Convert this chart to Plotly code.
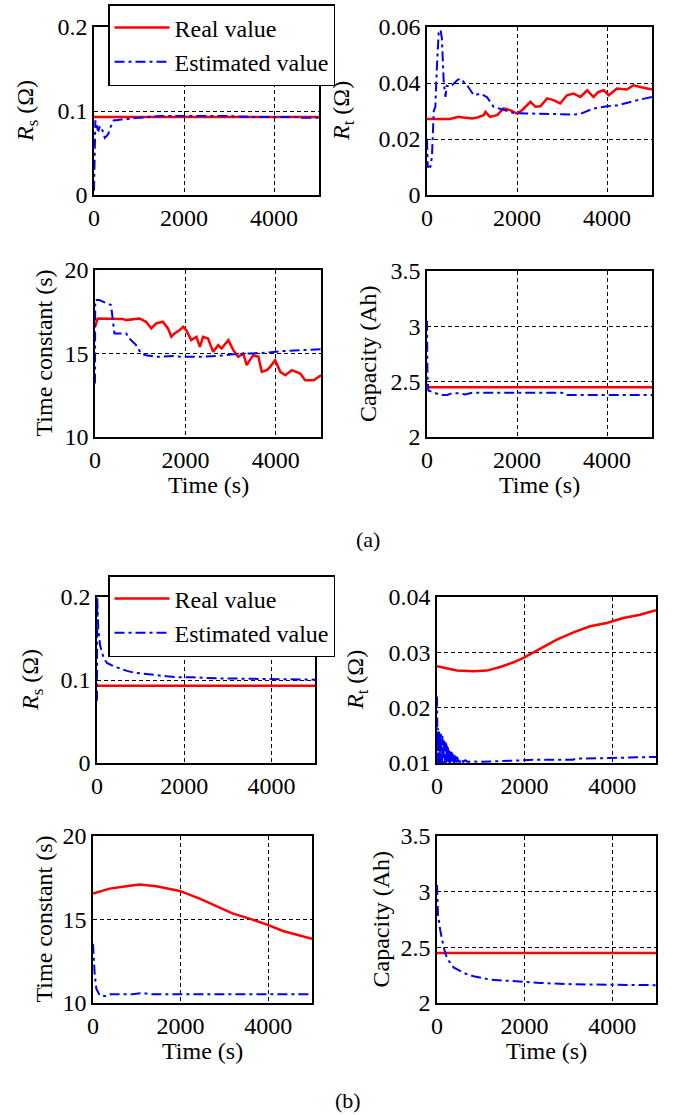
import plotly.graph_objects as go

W, H = 674, 1115
FONT = "'Liberation Serif', 'Times New Roman', Times, serif"

# ---------------- data ----------------
T_FULL = [0, 5000]

# (a) R_s
rs_a_real = [0.093, 0.093]
rs_a_est_t = [0, 10, 20, 30, 45, 60, 80, 100, 130, 160, 200, 240, 280, 320, 360, 400, 440, 500, 600, 700, 800,
              1000, 1200, 1500, 2000, 2500, 3000, 3500, 4000, 4500, 4600, 5000]
rs_a_est = [0.005, 0.03, 0.06, 0.089, 0.08, 0.085, 0.078, 0.077, 0.082, 0.081, 0.075, 0.068, 0.07, 0.073, 0.08,
            0.085, 0.089, 0.089, 0.090, 0.090, 0.091, 0.092, 0.093, 0.094, 0.094, 0.094, 0.094, 0.093, 0.093,
            0.093, 0.092, 0.092]

# (a) R_t
rt_a_real_t = [0, 500, 600, 700, 800, 1000, 1100, 1260, 1300, 1400, 1560, 1700, 1850, 2000, 2110, 2300, 2410,
               2520, 2670, 2810, 2960, 3110, 3260, 3410, 3560, 3700, 3810, 3930, 4040, 4220, 4440, 4590, 4740, 5000]
rt_a_real = [0.0271, 0.0271, 0.0275, 0.0279, 0.0277, 0.0273, 0.0276, 0.0285, 0.0297, 0.0279, 0.0285, 0.0309,
             0.0303, 0.0291, 0.0303, 0.0333, 0.0315, 0.0317, 0.0345, 0.0339, 0.0327, 0.0356, 0.0362, 0.035,
             0.0374, 0.035, 0.0368, 0.0374, 0.0356, 0.038, 0.0377, 0.0392, 0.0386, 0.0377]
rt_a_est_t = [0, 15, 75, 110, 150, 185, 220, 260, 300, 330, 370, 410, 440, 520, 670, 740, 890, 1040, 1190, 1330,
              1480, 1700, 1930, 2220, 2520, 2890, 3260, 3410, 3700, 4000, 4220, 4520, 4740, 5000]
rt_a_est = [0.0196, 0.0101, 0.0101, 0.0137, 0.030, 0.0315, 0.0457, 0.058, 0.059, 0.056, 0.041, 0.035, 0.039,
            0.0386, 0.041, 0.0416, 0.0392, 0.0356, 0.0362, 0.035, 0.0315, 0.0303, 0.0293, 0.0291, 0.0291,
            0.0289, 0.0287, 0.029, 0.0309, 0.0317, 0.032, 0.0333, 0.0341, 0.035]

# (a) time constant
tc_a_real_t = [0, 60, 615, 690, 985, 1130, 1245, 1355, 1500, 1615, 1690, 1760, 1875, 1950, 2020, 2130, 2245,
               2320, 2390, 2500, 2615, 2725, 2800, 2950, 3060, 3170, 3280, 3355, 3500, 3615, 3690, 3800, 3875,
               3985, 4100, 4210, 4355, 4540, 4650, 4840, 5000]
tc_a_real = [16.6, 17.1, 17.07, 17.0, 17.1, 16.9, 16.5, 16.8, 16.9, 16.5, 16.0, 16.2, 16.4, 16.6, 16.4, 15.8,
             16.0, 15.4, 16.0, 15.9, 15.1, 15.5, 15.3, 15.8, 15.2, 14.8, 15.0, 14.3, 14.9, 14.8, 13.9, 14.0,
             14.2, 14.6, 13.9, 13.7, 14.0, 13.8, 13.4, 13.4, 13.7]
tc_a_est_t = [0, 5, 95, 245, 355, 430, 690, 760, 910, 1020, 1130, 1355, 1725, 1950, 2320, 2690, 3060, 3430,
              3800, 4170, 4540, 5000]
tc_a_est = [13.2, 18.2, 18.2, 18.0, 17.9, 16.2, 16.2, 15.9, 15.5, 15.0, 14.9, 14.8, 14.85, 14.8, 14.8, 14.85,
            14.95, 15.0, 15.05, 15.15, 15.2, 15.25]

# (a) capacity
cap_a_real = [2.45, 2.45]
cap_a_est_t = [0, 10, 30, 150, 300, 450, 550, 700, 850, 1000, 1500, 2000, 2500, 3000, 3100, 3500, 4000, 4500, 5000]
cap_a_est = [3.05, 2.55, 2.42, 2.40, 2.38, 2.38, 2.395, 2.395, 2.385, 2.40, 2.40, 2.40, 2.40, 2.40, 2.38, 2.38,
             2.38, 2.38, 2.38]

# (b) R_s
rs_b_real = [0.093, 0.093]
rs_b_est_t = [0, 5, 30, 76, 153, 229, 382, 534, 687, 840, 1069, 1298, 1603, 1908, 2214, 2748, 3511, 4275, 5000]
rs_b_est = [0.075, 0.2, 0.16, 0.1406, 0.1265, 0.1205, 0.1165, 0.1133, 0.111, 0.109, 0.1076, 0.106, 0.1044,
            0.1032, 0.1032, 0.102, 0.1016, 0.1012, 0.1004]

# (b) R_t
rt_b_real_t = [0, 228, 456, 836, 1140, 1444, 1748, 1976, 2356, 2736, 3116, 3495, 3875, 4255, 4635, 5000]
rt_b_real = [0.0275, 0.0271, 0.0267, 0.0266, 0.0267, 0.02735, 0.0282, 0.029, 0.0306, 0.0323, 0.0336, 0.0347,
             0.0353, 0.0362, 0.0368, 0.0376]
rt_b_est_t = [0, 4, 10, 16, 22, 28, 34, 40, 46, 52, 58, 64, 70, 76, 82, 88, 94, 100, 108, 116, 124, 132, 140,
              148, 156, 164, 172, 180, 190, 200, 210, 220, 230, 240, 250, 260, 272, 284, 296, 308, 320, 332,
              344, 356, 370, 384, 398, 412, 428, 444, 460, 480, 500, 530, 560, 600, 650, 700, 800, 1000, 1300,
              1600, 1900, 2300, 2700, 3100, 3200, 3600, 4000, 4400, 4800, 5000]
rt_b_est = [0.022, 0.0101, 0.0168, 0.0101, 0.0163, 0.0100, 0.0160, 0.0101, 0.0158, 0.0100, 0.0157, 0.0101,
            0.0155, 0.0100, 0.0154, 0.0101, 0.0152, 0.0100, 0.0151, 0.0101, 0.0149, 0.0100, 0.0147, 0.0101,
            0.0144, 0.0100, 0.0141, 0.0101, 0.0138, 0.0100, 0.0135, 0.0101, 0.0131, 0.0100, 0.0128, 0.0101,
            0.0125, 0.0100, 0.0123, 0.0101, 0.0121, 0.0100, 0.0119, 0.0101, 0.0117, 0.0100, 0.0115, 0.0101,
            0.0113, 0.0101, 0.0111, 0.0101, 0.0109, 0.0101, 0.0107, 0.0102, 0.0105, 0.0102, 0.0103, 0.0102,
            0.0103, 0.0104, 0.0106, 0.0106, 0.0106, 0.0106, 0.0108, 0.0108, 0.0109, 0.0110, 0.0111, 0.0111]

# (b) time constant
tc_b_real_t = [0, 380, 761, 1065, 1446, 1979, 2435, 2816, 3196, 3577, 3957, 4338, 4718, 5000]
tc_b_real = [16.55, 16.85, 16.99, 17.09, 16.99, 16.71, 16.25, 15.79, 15.35, 15.05, 14.71, 14.31, 14.05, 13.85]
tc_b_est_t = [0, 38, 76, 152, 304, 400, 600, 900, 1141, 1300, 2000, 3000, 4000, 5000]
tc_b_est = [13.55, 11.76, 10.86, 10.46, 10.4, 10.52, 10.52, 10.52, 10.6, 10.52, 10.52, 10.52, 10.52, 10.52]

# (b) capacity
cap_b_real = [2.45, 2.45]
cap_b_est_t = [0, 23, 76, 152, 228, 380, 608, 836, 1216, 1596, 1976, 2356, 3116, 3875, 5000]
cap_b_est = [3.06, 2.79, 2.65, 2.50, 2.40, 2.32, 2.27, 2.24, 2.21, 2.20, 2.19, 2.18, 2.168, 2.165, 2.16]

# axis ticks
x_ticks = [0, 2000, 4000]
rs_ticks = [0, 0.1, 0.2]
rs_labels = ["0", "0.1", "0.2"]
rt_a_ticks = [0, 0.02, 0.04, 0.06]
rt_a_labels = ["0", "0.02", "0.04", "0.06"]
rt_b_ticks = [0.01, 0.02, 0.03, 0.04]
rt_b_labels = ["0.01", "0.02", "0.03", "0.04"]
tc_ticks = [10, 15, 20]
tc_labels = ["10", "15", "20"]
cap_ticks = [2, 2.5, 3, 3.5]
cap_labels = ["2", "2.5", "3", "3.5"]

RS_TITLE = "<i>R</i><sub>s</sub> (Ω)"
RT_TITLE = "<i>R</i><sub>t</sub> (Ω)"
TC_TITLE = "Time constant (s)"
CAP_TITLE = "Capacity (Ah)"
X_TITLE = "Time (s)"

# ---------------- layout geometry (pixels) ----------------
panels = [
    dict(box=(94, 319, 27, 195), yr=[0, 0.2], tv=rs_ticks, tt=rs_labels, yt=RS_TITLE, ytx=27, xty=None,
         real=(T_FULL, rs_a_real), est=(rs_a_est_t, rs_a_est), legend="legend"),
    dict(box=(427, 652, 27, 195), yr=[0, 0.06], tv=rt_a_ticks, tt=rt_a_labels, yt=RT_TITLE, ytx=343, xty=None,
         real=(rt_a_real_t, rt_a_real), est=(rt_a_est_t, rt_a_est), legend=None),
    dict(box=(95, 321, 270, 437), yr=[10, 20], tv=tc_ticks, tt=tc_labels, yt=TC_TITLE, ytx=43, xty=485,
         real=(tc_a_real_t, tc_a_real), est=(tc_a_est_t, tc_a_est), legend=None),
    dict(box=(427, 652, 271, 437), yr=[2, 3.5], tv=cap_ticks, tt=cap_labels, yt=CAP_TITLE, ytx=368, xty=485,
         real=(T_FULL, cap_a_real), est=(cap_a_est_t, cap_a_est), legend=None),
    dict(box=(97, 315, 597, 763), yr=[0, 0.2], tv=rs_ticks, tt=rs_labels, yt=RS_TITLE, ytx=32, xty=None,
         real=(T_FULL, rs_b_real), est=(rs_b_est_t, rs_b_est), legend="legend2"),
    dict(box=(437, 656, 597, 763), yr=[0.01, 0.04], tv=rt_b_ticks, tt=rt_b_labels, yt=RT_TITLE, ytx=357, xty=None,
         real=(rt_b_real_t, rt_b_real), est=(rt_b_est_t, rt_b_est), legend=None),
    dict(box=(93, 312, 836, 1003), yr=[10, 20], tv=tc_ticks, tt=tc_labels, yt=TC_TITLE, ytx=43, xty=1051,
         real=(tc_b_real_t, tc_b_real), est=(tc_b_est_t, tc_b_est), legend=None),
    dict(box=(437, 656, 836, 1003), yr=[2, 3.5], tv=cap_ticks, tt=cap_labels, yt=CAP_TITLE, ytx=380, xty=1051,
         real=(T_FULL, cap_b_real), est=(cap_b_est_t, cap_b_est), legend=None),
]


def px(x):
    return x / W


def py(y):
    return 1 - y / H


fig = go.Figure()
layout = dict(
    width=W, height=H,
    margin=dict(l=0, r=0, t=0, b=0),
    paper_bgcolor="white", plot_bgcolor="white",
    font=dict(family=FONT, size=24, color="black"),
    showlegend=True,
)
annotations = []
axis_common = dict(showline=True, linecolor="black", linewidth=1.5, mirror=True,
                   showgrid=True, gridcolor="black", gridwidth=1, griddash="4px,3px",
                   zeroline=False, ticks="", automargin=False,
                   tickfont=dict(family=FONT, size=24, color="black"))

for i, p in enumerate(panels, start=1):
    x0, x1, y0, y1 = p["box"]
    xa = "xaxis" if i == 1 else f"xaxis{i}"
    ya = "yaxis" if i == 1 else f"yaxis{i}"
    xr = "x" if i == 1 else f"x{i}"
    yr = "y" if i == 1 else f"y{i}"
    layout[xa] = dict(domain=[px(x0), px(x1)], anchor=yr, range=[0, 5000], tickvals=x_ticks,
                      ticktext=[str(v) for v in x_ticks], **axis_common)
    layout[ya] = dict(domain=[py(y1), py(y0)], anchor=xr, range=p["yr"], tickvals=p["tv"],
                      ticktext=p["tt"], **axis_common)
    show = p["legend"] is not None
    leg = p["legend"] if show else "legend"
    fig.add_trace(go.Scatter(x=p["real"][0], y=p["real"][1], mode="lines", name="Real value",
                             line=dict(color="#ff0000", width=2.5), xaxis=xr, yaxis=yr,
                             showlegend=show, legend=leg))
    fig.add_trace(go.Scatter(x=p["est"][0], y=p["est"][1], mode="lines", name="Estimated value",
                             line=dict(color="#0000ff", width=2, dash="10px,4px,3px,4px"), xaxis=xr, yaxis=yr,
                             showlegend=show, legend=leg))
    annotations.append(dict(text=p["yt"], x=px(p["ytx"]), y=py((y0 + y1) / 2), xref="paper", yref="paper",
                            xanchor="center", yanchor="middle", textangle=-90, showarrow=False,
                            font=dict(family=FONT, size=24, color="black")))
    if p["xty"] is not None:
        annotations.append(dict(text=X_TITLE, x=px((x0 + x1) / 2), y=py(p["xty"]), xref="paper", yref="paper",
                                xanchor="center", yanchor="middle", showarrow=False,
                                font=dict(family=FONT, size=24, color="black")))

annotations.append(dict(text="(a)", x=px(368), y=py(539), xref="paper", yref="paper", xanchor="center",
                        yanchor="middle", showarrow=False, font=dict(family=FONT, size=22, color="black")))
annotations.append(dict(text="(b)", x=px(348), y=py(1100), xref="paper", yref="paper", xanchor="center",
                        yanchor="middle", showarrow=False, font=dict(family=FONT, size=22, color="black")))

legend_common = dict(xanchor="left", yanchor="top", bgcolor="white", bordercolor="black", borderwidth=1.5,
                     font=dict(family=FONT, size=24, color="black"), itemwidth=55, tracegroupgap=0,
                     traceorder="normal", entrywidth=175, entrywidthmode="pixels")
layout["legend"] = dict(x=px(108), y=py(4), **legend_common)
layout["legend2"] = dict(x=px(108), y=py(575), **legend_common)
layout["annotations"] = annotations

fig.update_layout(**layout)
fig.write_html("out.html")
